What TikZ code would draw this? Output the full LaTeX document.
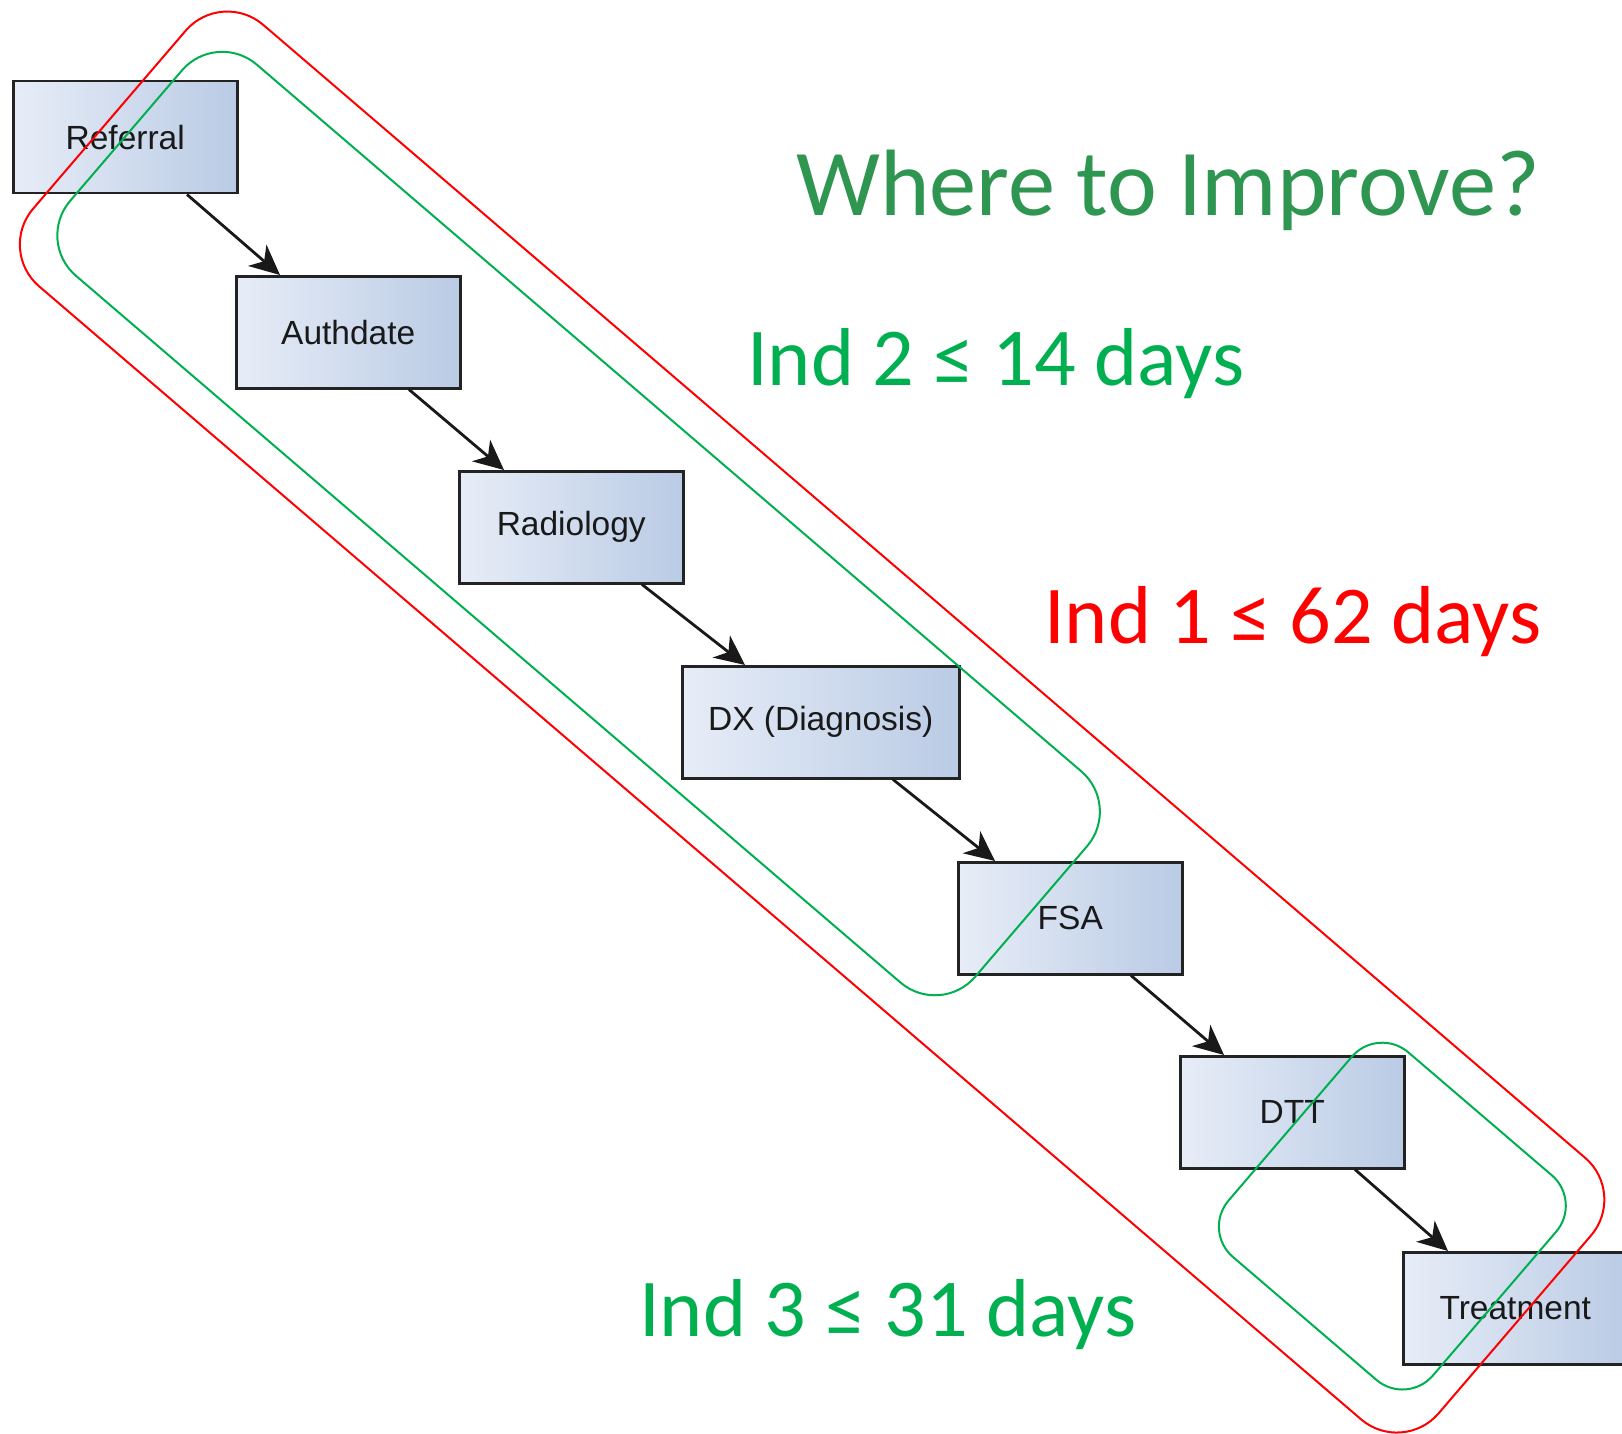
\documentclass[tikz,border=0pt]{standalone}
\usepackage{fontspec}
\newfontfamily\calib{Carlito}
\newfontfamily\arialf{Liberation Sans}
\usetikzlibrary{arrows.meta,positioning}
\definecolor{boxleft}{RGB}{231,237,247}
\definecolor{boxright}{RGB}{186,203,229}
\definecolor{boxline}{RGB}{35,35,35}
\definecolor{arrowcol}{RGB}{25,25,25}
\definecolor{offgreen}{RGB}{0,176,80}
\definecolor{titlegreen}{RGB}{47,150,82}
\definecolor{offred}{RGB}{255,0,0}
\tikzset{
  stepbox/.style={draw=boxline, line width=2.5pt, left color=boxleft, right color=boxright,
    minimum width=224pt, minimum height=112pt, inner sep=0pt, anchor=north west,
    font=\arialf\fontsize{33.5}{38}\selectfont, text=black!90},
  flowarrow/.style={draw=arrowcol, line width=2.8pt, -{Stealth[length=30pt,width=28pt,inset=9pt]}},
  redloop/.style={draw=offred, line width=2pt, rounded corners=55pt},
  greenloop/.style={draw=offgreen, line width=2pt, rounded corners=53pt},
  bigtext/.style={anchor=base west, inner sep=0pt, font=\calib\fontsize{82.2}{98}\selectfont}
}
\begin{document}
\begin{tikzpicture}[x=1pt,y=-1pt]
\useasboundingbox (0,0) rectangle (1622,1434);
\clip (0,0) rectangle (1622,1434);
\fill[white] (0,0) rectangle (1622,1434);

% boxes
\node[stepbox] (referral) at (12,80) {Referral};
\node[stepbox] (authdate) at (235,275) {Authdate};
\node[stepbox] (radiology) at (458,470) {Radiology};
\node[stepbox, minimum width=277pt] (dx) at (681,665) {DX (Diagnosis)};
\node[stepbox] (fsa) at (957,861) {FSA};
\node[stepbox] (dtt) at (1179,1055) {DTT};
\node[stepbox] (treatment) at (1402,1251) {Treatment};

% arrows
\draw[flowarrow] ([xshift=175pt]referral.south west) -- ([xshift=45pt]authdate.north west);
\draw[flowarrow] ([xshift=174pt]authdate.south west) -- ([xshift=46pt]radiology.north west);
\draw[flowarrow] ([xshift=184pt]radiology.south west) -- ([xshift=64pt]dx.north west);
\draw[flowarrow] ([xshift=212pt]dx.south west) -- ([xshift=38pt]fsa.north west);
\draw[flowarrow] ([xshift=174pt]fsa.south west) -- ([xshift=45pt]dtt.north west);
\draw[flowarrow] ([xshift=176pt]dtt.south west) -- ([xshift=46pt]treatment.north west);

% outlines
\draw[redloop] (924.15,591.3) -- (1626.9,1193.6) -- (1402.8,1455.1) -- (-2.7,250.5) -- (221.4,-11.0) -- cycle;
\draw[greenloop] (669.05,418.0) -- (1121.6,805.9) -- (940.7,1017.0) -- (35.6,241.2) -- (216.5,30.1) -- cycle;
\draw[greenloop, rounded corners=40pt] (1480.05,1113.8) -- (1582.2,1201.3) -- (1406.8,1405.9) -- (1202.5,1230.9) -- (1377.9,1026.3) -- cycle;

% texts
\node[bigtext, text=titlegreen, font=\calib\fontsize{94.3}{112}\selectfont] (title) at (796,215) {Where to Improve?};
\node[bigtext, text=offgreen] (ind2) at (747,385) {Ind 2 ≤ 14 days};
\node[bigtext, text=offred] (ind1) at (1044,643) {Ind 1 ≤ 62 days};
\node[bigtext, text=offgreen] (ind3) at (639,1336) {Ind 3 ≤ 31 days};
\end{tikzpicture}
\end{document}
